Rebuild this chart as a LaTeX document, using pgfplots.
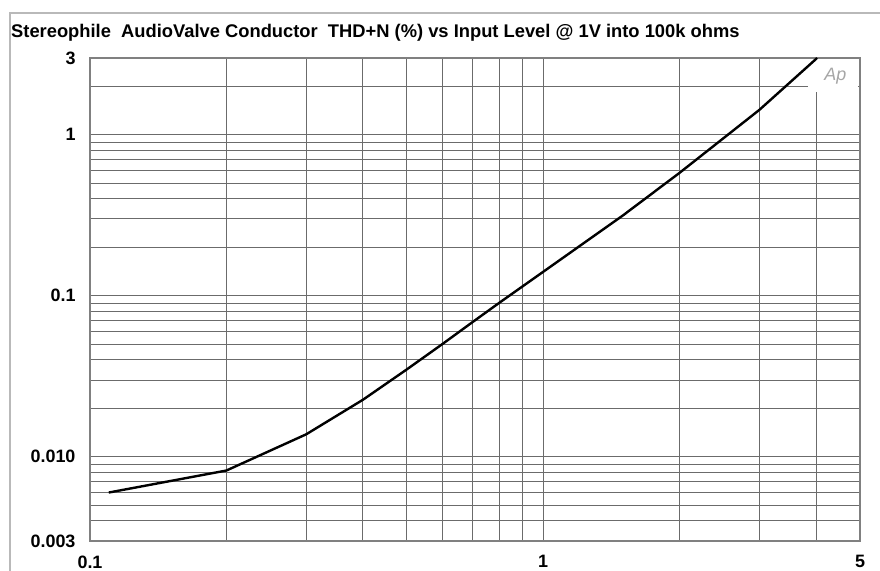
\documentclass[border=0pt]{standalone}
\usepackage{pgfplots}
\pgfplotsset{compat=1.18}
\usepackage{fontspec}
\setmainfont{Liberation Sans}
\begin{document}
\begin{tikzpicture}
\path[use as bounding box] (0bp,0bp) rectangle (880bp,571bp);
\draw[gray!55, line width=1.5bp] (10bp,0bp) -- (10bp,558bp) -- (880bp,558bp);
\node[anchor=base west, font=\bfseries\fontsize{18.4}{20}\selectfont, inner sep=0pt] at (11bp,533bp) {Stereophile\ \ AudioValve Conductor\ \ THD+N (\%) vs Input Level @ 1V into 100k ohms};
\begin{axis}[
  at={(90bp,30bp)}, anchor=south west,
  scale only axis, width=770bp, height=483bp,
  xmode=log, ymode=log,
  xmin=0.1, xmax=5, ymin=0.003, ymax=3,
  xtick={0.1,1,5}, xticklabels={0.1,1,5},
  ytick={0.003,0.01,0.1,1,3}, yticklabels={0.003,0.010,0.1,1,3},
  minor xtick={0.2,0.3,0.4,0.5,0.6,0.7,0.8,0.9,2,3,4},
  minor ytick={0.004,0.005,0.006,0.007,0.008,0.009,0.02,0.03,0.04,0.05,0.06,0.07,0.08,0.09,0.2,0.3,0.4,0.5,0.6,0.7,0.8,0.9,2},
  grid=both,
  major grid style={draw=black!58, line width=1bp},
  minor grid style={draw=black!58, line width=1bp},
  major tick length=0pt, minor tick length=0pt,
  axis line style={black!50, line width=1.2bp},
  tick label style={font=\bfseries\fontsize{18}{18}\selectfont},
  xticklabel style={yshift=-11bp},
  yticklabel style={xshift=-11bp},
  /pgf/number format/assume math mode=true,
  clip=true,
]
\fill[white] (rel axis cs:0.932,0.93) rectangle (rel axis cs:0.997,0.997);
\node[font=\itshape\fontsize{18}{18}\selectfont, text=black!35] at (rel axis cs:0.968,0.962) {Ap};
\addplot[black, line width=2.4bp] coordinates {
(0.110,0.0060) (0.2,0.00822) (0.3,0.0138) (0.4,0.0226) (0.5,0.0349)
(0.6,0.0503) (0.7,0.069) (0.8,0.0905) (1.0,0.141) (1.5,0.316)
(2.0,0.581) (3.0,1.43) (3.98,2.92) (4.02,3.0)
};
\end{axis}
\end{tikzpicture}
\end{document}
